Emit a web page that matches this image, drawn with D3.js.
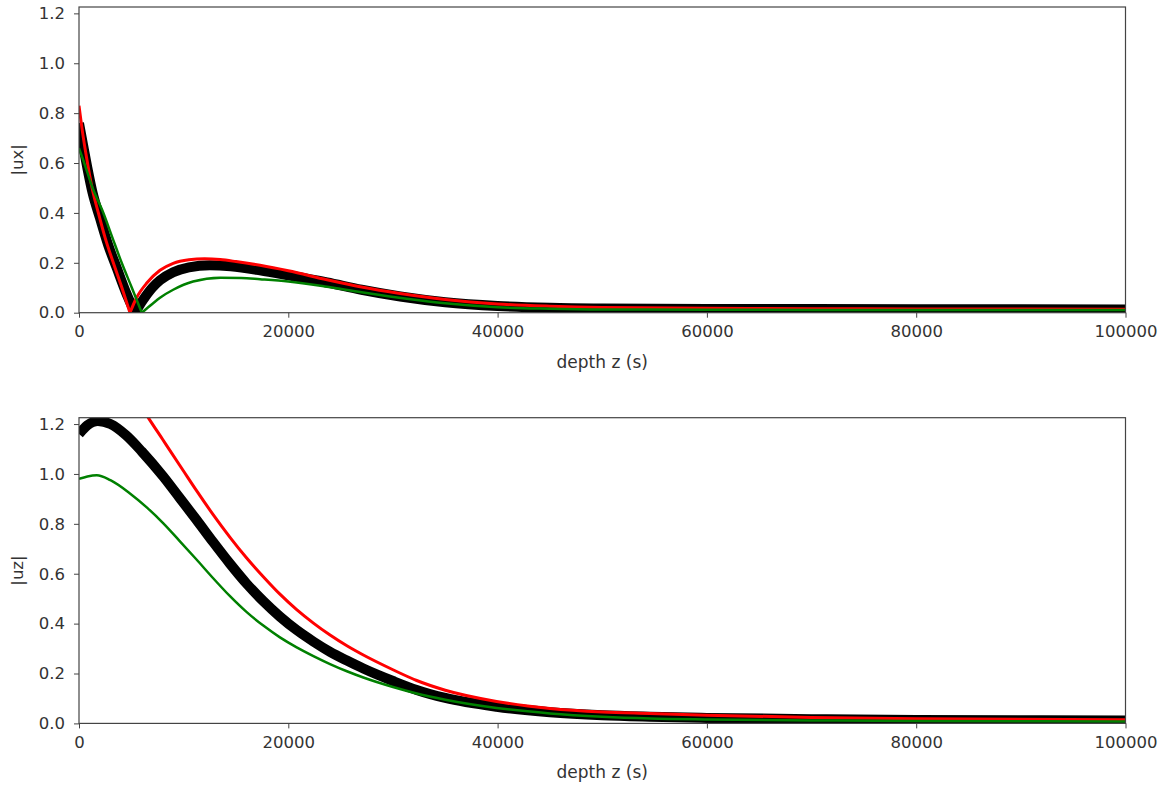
<!DOCTYPE html>
<html>
<head>
<meta charset="utf-8">
<script src="https://cdn.jsdelivr.net/npm/d3@7"></script>
<style>
  body { margin: 0; background: #fff; }
  text { font-family: "DejaVu Sans", sans-serif; fill: #333; }
  .axis path, .axis line { stroke: #444; }
</style>
</head>
<body>
<svg id="chart" width="1167" height="786"></svg>
<script>
// [depth z (s), value]
const uxBlack = [[0,0.76],[400,0.67],[800,0.58],[1300,0.48],[2000,0.38],[2800,0.27],[3600,0.18],[4500,0.08],[5350,0],
  [6100,0.05],[7000,0.1],[7740,0.13],[9000,0.162],[10500,0.182],[12500,0.19],[14500,0.186],[17300,0.17],[20000,0.15],
  [23700,0.121],[27000,0.092],[30700,0.065],[35000,0.042],[40000,0.027],[45000,0.02],[50000,0.017],[60000,0.015],
  [80000,0.014],[100000,0.013]]
const uxRed = [[0,0.83],[350,0.72],[730,0.62],[1250,0.5],[1850,0.4],[2500,0.3],[3280,0.2],[4100,0.1],[4870,0],
  [5500,0.06],[6500,0.12],[7740,0.17],[9000,0.198],[10500,0.212],[12000,0.216],[13500,0.213],[15000,0.205],
  [17300,0.19],[20000,0.168],[23700,0.132],[27000,0.103],[30700,0.077],[35000,0.053],[40000,0.035],[45000,0.026],
  [50000,0.021],[60000,0.018],[70000,0.016],[80000,0.015],[100000,0.014]]
const uxGreen = [[0,0.66],[500,0.6],[1300,0.5],[2330,0.4],[3200,0.3],[4080,0.2],[5050,0.1],[6000,0],
  [7000,0.035],[7740,0.06],[9000,0.092],[10900,0.125],[13500,0.14],[15500,0.139],[17300,0.134],[20000,0.125],
  [23700,0.104],[27000,0.082],[31500,0.055],[35000,0.038],[40000,0.022],[45000,0.016],[50000,0.013],
  [60000,0.012],[80000,0.011],[100000,0.011]]

const uzBlack = [[0,1.16],[800,1.195],[1800,1.212],[3000,1.2],[4500,1.155],[6000,1.09],[8060,0.989],[9600,0.905],
  [11250,0.815],[12800,0.728],[14430,0.64],[16000,0.561],[17610,0.49],[19200,0.428],[20800,0.374],[22400,0.328],
  [23990,0.287],[25600,0.252],[27170,0.22],[30000,0.17],[32270,0.134],[35000,0.102],[39900,0.067],[45000,0.045],
  [50000,0.033],[54560,0.027],[60000,0.022],[70000,0.017],[80000,0.014],[100000,0.012]]
const uzRed = [[0,1.4],[1500,1.44],[3000,1.42],[4500,1.36],[5500,1.3],[6630,1.225],[8000,1.138],[9970,1.013],
  [11250,0.932],[12800,0.838],[14430,0.746],[16000,0.664],[17610,0.588],[19200,0.518],[20800,0.456],[22400,0.402],
  [23990,0.354],[25600,0.311],[27170,0.274],[30000,0.215],[32270,0.172],[35000,0.133],[39900,0.088],[45000,0.06],
  [50000,0.046],[54560,0.04],[60000,0.033],[70000,0.024],[80000,0.019],[100000,0.015]]
const uzGreen = [[0,0.98],[800,0.99],[1700,0.995],[3000,0.975],[4870,0.922],[6500,0.865],[8060,0.802],[9600,0.732],
  [11250,0.656],[12800,0.583],[14430,0.51],[16000,0.447],[17610,0.392],[19200,0.345],[20800,0.305],[22400,0.27],
  [23990,0.238],[25600,0.209],[27170,0.184],[30000,0.146],[32270,0.12],[35000,0.095],[39900,0.062],[45000,0.04],
  [50000,0.027],[54560,0.02],[60000,0.016],[70000,0.012],[80000,0.01],[100000,0.008]]

const xTicks = [0, 20000, 40000, 60000, 80000, 100000]
const yTicks = [0, 0.2, 0.4, 0.6, 0.8, 1.0, 1.2]
const xLabel = 'depth z (s)'

const panels = [
  { name: 'ux', label: '|ux|', top: 7, series: [uxBlack, uxRed, uxGreen] },
  { name: 'uz', label: '|uz|', top: 417.7, series: [uzBlack, uzRed, uzGreen] }
]
const styles = [
  { color: '#000', width: 10 },
  { color: '#ff0000', width: 3 },
  { color: '#008000', width: 2.5 }
]

const config = { left: 79, right: 1125.5, height: 305.7, fontSize: 16.5 }
const svg = d3.select('#chart')

const x = d3.scaleLinear().domain([0, 100000]).range([config.left, config.right])

// split a series at its zero points so the |.| kink stays sharp
function segments(data) {
  let out = [], cur = []
  data.forEach((d, i) => {
    cur.push(d)
    if (d[1] === 0 && i > 0 && i < data.length - 1) { out.push(cur); cur = [d] }
  })
  out.push(cur)
  return out
}

panels.forEach(p => {
  const y = d3.scaleLinear().domain([0, 1.2255]).range([p.top + config.height, p.top])
  const g = svg.append('g').attr('class', p.name)

  g.append('clipPath').attr('id', `clip-${p.name}`)
    .append('rect')
      .attr('x', config.left).attr('y', p.top)
      .attr('width', config.right - config.left).attr('height', config.height)

  const line = d3.line().x(d => x(d[0])).y(d => y(d[1])).curve(d3.curveMonotoneX)

  g.append('g').attr('clip-path', `url(#clip-${p.name})`)
    .selectAll('g')
    .data(p.series)
    .join('g')
      .attr('stroke', (d, i) => styles[i].color)
      .attr('stroke-width', (d, i) => styles[i].width)
    .selectAll('path')
    .data(d => segments(d))
    .join('path')
      .attr('fill', 'none')
      .attr('stroke-linejoin', 'round')
      .attr('d', line)

  g.append('g').attr('class', 'axis')
    .attr('transform', `translate(0, ${p.top + config.height})`)
    .call(d3.axisBottom(x).tickValues(xTicks).tickFormat(d3.format('d')).tickSize(5).tickPadding(8))
    .call(a => a.select('.domain').remove())
    .selectAll('text').style('font-size', config.fontSize + 'px').attr('fill', '#333')

  g.append('g').attr('class', 'axis')
    .attr('transform', `translate(${config.left}, 0)`)
    .call(d3.axisLeft(y).tickValues(yTicks).tickFormat(d3.format('.1f')).tickSize(5).tickPadding(9))
    .call(a => a.select('.domain').remove())
    .selectAll('text').style('font-size', config.fontSize + 'px').attr('fill', '#333')

  g.append('rect')
    .attr('x', config.left).attr('y', p.top)
    .attr('width', config.right - config.left).attr('height', config.height)
    .attr('fill', 'none').attr('stroke', '#444').attr('stroke-width', 1.2)

  g.append('text')
    .attr('x', (config.left + config.right) / 2)
    .attr('y', p.top + config.height + 55)
    .attr('text-anchor', 'middle')
    .style('font-size', '17px')
    .text(xLabel)

  g.append('text')
    .attr('transform', `translate(23, ${p.top + config.height / 2}) rotate(-90)`)
    .attr('text-anchor', 'middle')
    .style('font-size', config.fontSize + 'px')
    .text(p.label)
})
</script>
</body>
</html>
